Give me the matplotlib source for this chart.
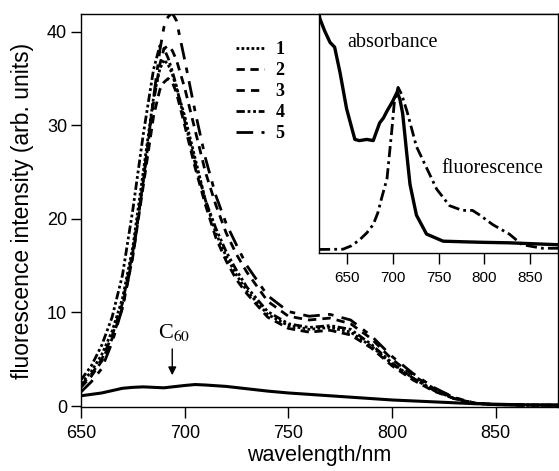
import matplotlib
matplotlib.use("Agg")
import matplotlib.pyplot as plt

# ---------------- data ----------------
wl = [650, 655, 660, 665, 670, 675, 680, 685, 688, 690, 692, 694, 696, 700, 705, 710, 715,
      720, 725, 730, 740, 750, 760, 770, 780, 790, 800, 810, 820, 830, 840, 850, 865, 880]
s1 = [2.4, 3.7, 5.5, 8, 11.5, 17, 25, 33, 36, 37, 36.5, 35.5, 34, 31, 26.5, 22, 18.5,
      16, 14, 12.3, 9.8, 8.6, 8.2, 8.4, 7.9, 6.4, 4.5, 3.0, 1.7, 0.8, 0.3, 0.15, 0.1, 0.1]
s2 = [2.0, 3.2, 4.8, 7.2, 10.5, 16, 23.5, 31, 33.8, 34.6, 35, 34.6, 33.5, 30, 25.5, 21.5, 18,
      15.5, 13.5, 12.0, 9.5, 8.3, 7.9, 8.1, 7.6, 6.2, 4.3, 2.8, 1.6, 0.8, 0.3, 0.15, 0.1, 0.1]
s3 = [2.2, 3.4, 5.0, 7.5, 11, 16.5, 24, 32.5, 36.5, 38.2, 38.5, 38.0, 37.0, 34, 29.5, 25, 21.5,
      18.5, 16.2, 14.3, 11.2, 9.6, 9.2, 9.4, 8.8, 7.2, 5.0, 3.3, 1.9, 0.9, 0.3, 0.15, 0.1, 0.1]
s4 = [2.8, 4.3, 6.5, 9.5, 14, 21, 29, 36, 38.5, 38.2, 37.2, 35.8, 34.2, 30.5, 26, 22, 19,
      16.5, 14.5, 12.7, 10.1, 8.8, 8.4, 8.6, 8.2, 6.6, 4.6, 3.0, 1.7, 0.8, 0.3, 0.15, 0.1, 0.1]
s5 = [1.5, 2.6, 4.0, 6.8, 10.5, 16, 24, 33, 38, 40.5, 41.6, 42, 41.2, 37, 31.5, 26.5, 22.5,
      19.5, 17.2, 15.0, 11.8, 10.1, 9.6, 9.8, 9.2, 7.5, 5.3, 3.5, 2.0, 0.9, 0.3, 0.15, 0.1, 0.1]
series_labels = ["1", "2", "3", "4", "5"]

c60_wl = [650, 660, 670, 675, 680, 690, 700, 705, 710, 720, 730, 740, 750, 760, 770, 780,
          790, 800, 810, 820, 830, 840, 850, 860, 880]
c60 = [1.1, 1.4, 1.9, 2.0, 2.05, 1.95, 2.2, 2.3, 2.25, 2.1, 1.85, 1.6, 1.4, 1.25, 1.1, 0.95,
       0.8, 0.65, 0.55, 0.45, 0.35, 0.25, 0.2, 0.15, 0.1]

abs_wl = [620, 621, 626, 632, 637, 643, 650, 659, 664, 672, 679, 686, 690, 694, 700, 705,
          708, 711, 716, 719, 726, 737, 755, 780, 800, 827, 880]
absorb = [1.0, 0.98, 0.93, 0.88, 0.86, 0.75, 0.60, 0.47, 0.465, 0.47, 0.465, 0.54, 0.56, 0.59,
          0.63, 0.67, 0.64, 0.58, 0.39, 0.28, 0.15, 0.07, 0.04, 0.037, 0.035, 0.033, 0.025]

fl_wl = [620, 646, 655, 664, 672, 679, 684, 688, 694, 699, 702, 706, 710, 716, 726, 737, 748,
         762, 776, 787, 795, 809, 827, 841, 863, 880]
fluor = [0.005, 0.006, 0.02, 0.045, 0.075, 0.11, 0.16, 0.22, 0.305, 0.50, 0.63, 0.69, 0.66,
         0.585, 0.44, 0.35, 0.26, 0.19, 0.17, 0.17, 0.15, 0.11, 0.07, 0.025, 0.01, 0.01]

xticks_main = [650, 700, 750, 800, 850]
yticks_main = [0, 10, 20, 30, 40]
xticks_inset = [650, 700, 750, 800, 850]

# ---------------- figure ----------------
W, H = 559, 471
fig = plt.figure(figsize=(W / 100, H / 100), dpi=100)
plt.rcParams['mathtext.fontset'] = 'stix'
sans = 'Liberation Sans'
serif = 'Liberation Serif'

ax = fig.add_axes([81 / W, 1 - 407 / H, (558 - 81) / W, (407 - 14) / H])
styles = [(0, (1, 0.8)), (0, (3, 2)), (0, (3, 2.2)), (0, (3, 1, 1, 1, 1, 1)), (0, (6, 3, 2, 3))]
for s, ls, lab in zip([s1, s2, s3, s4, s5], styles, series_labels):
    ax.plot(wl, s, color='black', lw=2.0, linestyle=ls, label=lab)
ax.plot(c60_wl, c60, color='black', lw=2.2)

ax.set_xlim(650, 880)
ax.set_ylim(-0.1, 41.9)
ax.set_xticks(xticks_main)
ax.set_yticks(yticks_main)
ax.tick_params(direction='out', length=7, width=1.0, labelsize=13, pad=3)
ax.tick_params(axis='x', length=8, pad=5)
for t in ax.get_xticklabels() + ax.get_yticklabels():
    t.set_fontfamily(sans)
for sp in ax.spines.values():
    sp.set_linewidth(1.0)
ax.set_xlabel('wavelength/nm', fontsize=15.5, fontfamily=sans, labelpad=2)
ax.set_ylabel('fluorescence intensity (arb. units)', fontsize=16.5, fontfamily=sans, labelpad=9)

leg = ax.legend(loc='upper left', bbox_to_anchor=(0.29, 0.972), frameon=False,
                handlelength=1.6, handletextpad=0.6, labelspacing=0.22,
                prop={'family': serif, 'weight': 'bold', 'size': 13})

ax.annotate('', xy=(694, 3.0), xytext=(694, 6.4),
            arrowprops=dict(arrowstyle='-|>', color='black', lw=1.0, mutation_scale=12))
ax.text(695, 6.7, r'C$_{60}$', fontsize=16, fontfamily=serif, ha='center', va='bottom')

# ---------------- inset ----------------
ins = fig.add_axes([319 / W, 1 - 253 / H, (558 - 319) / W, (253 - 14) / H])
ins.set_facecolor('white')
ins.plot(abs_wl, absorb, color='black', lw=2.4)
ins.plot(fl_wl, fluor, color='black', lw=2.0, linestyle=(0, (4, 1.5, 1, 1.5)))
ins.set_xlim(620, 880)
ins.set_ylim(-0.01, 1.0)
ins.set_yticks([])
ins.set_xticks(xticks_inset)
ins.tick_params(axis='x', direction='out', length=8, width=1.0, labelsize=11, pad=5)
for t in ins.get_xticklabels():
    t.set_fontfamily(sans)
for sp in ins.spines.values():
    sp.set_linewidth(1.0)
ins.text(700, 0.88, 'absorbance', fontsize=14.5, fontfamily=serif, ha='center', va='center')
ins.text(808, 0.345, 'fluorescence', fontsize=14.5, fontfamily=serif, ha='center', va='center')

fig.savefig('out.png', dpi=100)
